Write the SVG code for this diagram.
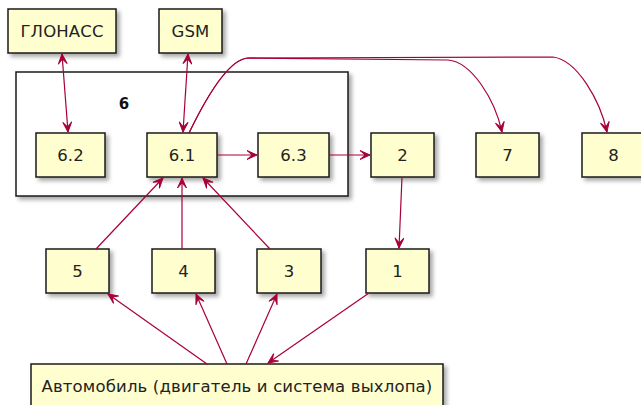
<svg xmlns="http://www.w3.org/2000/svg" width="641" height="405" viewBox="0 0 641 405">
<defs>
<filter id="sh" x="-20%" y="-20%" width="150%" height="150%">
<feDropShadow dx="3" dy="3" stdDeviation="2" flood-color="#000" flood-opacity="0.35"/>
</filter>
<marker id="ah" viewBox="-11 -5 12 10" refX="0" refY="0" markerWidth="12" markerHeight="10" markerUnits="userSpaceOnUse" orient="auto-start-reverse">
<path d="M0,0 L-10,-4.5 L-5,0 L-10,4.5 Z" fill="#A80036" stroke="#A80036" stroke-width="1"/>
</marker>
</defs>
<style>
.n rect{fill:#FEFECE;stroke:#1a1a1a;stroke-width:1.5;filter:url(#sh)}
.n text{font-family:"DejaVu Sans",sans-serif;font-size:16.5px;letter-spacing:0.15px;fill:#222;text-anchor:middle}
.pk rect{fill:#fff;stroke:#1a1a1a;stroke-width:1.5;filter:url(#sh)}
.pk text{font-family:"DejaVu Sans",sans-serif;font-size:15px;font-weight:bold;fill:#111;text-anchor:middle}
.c path,.c line{fill:none;stroke:#A80036;stroke-width:1.2;marker-end:url(#ah)}
.c .bi{marker-start:url(#ah)}
</style>
<g id="pkg6" class="pk"><rect x="16" y="72" width="332" height="124"/><text x="124" y="109">6</text></g>
<g id="glonass" class="n"><rect x="8" y="9" width="108" height="44"/><text x="62" y="37">ГЛОНАСС</text></g>
<g id="gsm" class="n"><rect x="159" y="9" width="63" height="44"/><text x="190.5" y="37">GSM</text></g>
<g id="n62" class="n"><rect x="36" y="133" width="69" height="44"/><text x="70.5" y="161">6.2</text></g>
<g id="n61" class="n"><rect x="147" y="133" width="70" height="44"/><text x="182" y="161">6.1</text></g>
<g id="n63" class="n"><rect x="258" y="133" width="71" height="44"/><text x="293.5" y="161">6.3</text></g>
<g id="n2" class="n"><rect x="371" y="133" width="63" height="44"/><text x="402.5" y="161">2</text></g>
<g id="n7" class="n"><rect x="476" y="133" width="63" height="44"/><text x="507.5" y="161">7</text></g>
<g id="n8" class="n"><rect x="582" y="133" width="63" height="44"/><text x="613.5" y="161">8</text></g>
<g id="n5" class="n"><rect x="46" y="249" width="63" height="44"/><text x="77.5" y="277">5</text></g>
<g id="n4" class="n"><rect x="152" y="249" width="63" height="44"/><text x="183.5" y="277">4</text></g>
<g id="n3" class="n"><rect x="257" y="249" width="64" height="44"/><text x="289" y="277">3</text></g>
<g id="n1" class="n"><rect x="366" y="249" width="63" height="44"/><text x="397.5" y="277">1</text></g>
<g id="car" class="n"><rect x="31" y="364" width="412" height="48"/><text x="237" y="392">Автомобиль (двигатель и система выхлопа)</text></g>
<g id="connectors" class="c">
<line class="bi" x1="62" y1="54" x2="68" y2="132"/>
<line class="bi" x1="188" y1="54" x2="183" y2="132"/>
<line x1="217" y1="155" x2="257" y2="155"/>
<line x1="329" y1="155" x2="370" y2="155"/>
<path d="M189,133 C205,100 228,59 248,58 L448,60 C472,62 495,100 502,132"/>
<path d="M189,133 C205,100 228,59 248,58 L553,57 C577,60 600,100 607,132"/>
<line x1="402" y1="177" x2="399" y2="248"/>
<line x1="96" y1="249" x2="163" y2="178"/>
<line x1="182" y1="249" x2="182" y2="178"/>
<line x1="270" y1="249" x2="203" y2="178"/>
<line x1="207" y1="364" x2="108" y2="294"/>
<line x1="227" y1="364" x2="196" y2="294"/>
<line x1="246" y1="364" x2="277" y2="294"/>
<line x1="369" y1="293" x2="268" y2="363"/>
</g>
</svg>
